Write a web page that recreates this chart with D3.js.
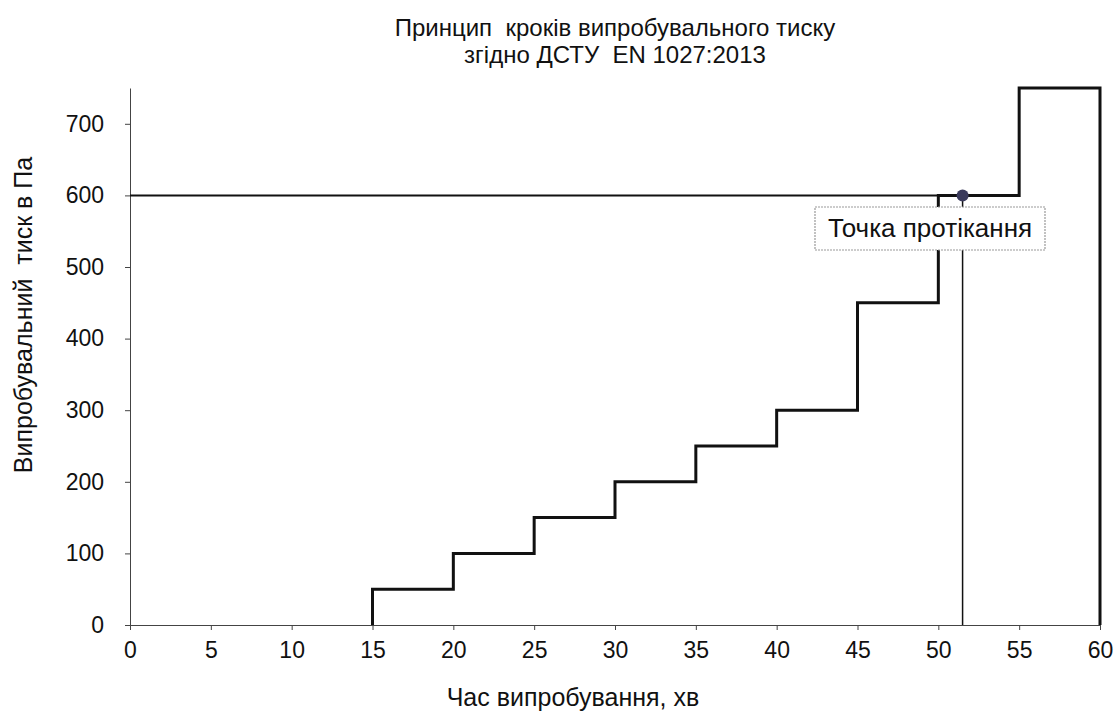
<!DOCTYPE html>
<html lang="uk">
<head>
  <meta charset="UTF-8">
  <title>Принцип кроків випробувального тиску</title>
  <script src="https://d3js.org/d3.v7.min.js"></script>
  <style>
    body { margin: 0; background: #fff; font-family: "Liberation Sans", Arial, sans-serif; }
    .axis path, .axis line { stroke: #444; stroke-width: 1; }
    .axis text { fill: #111; font-size: 23px; font-family: "Liberation Sans", Arial, sans-serif; }
  </style>
</head>
<body>
<svg id="chart" width="1115" height="715"></svg>
<script>
// Data
const stepTimes = [15, 20, 25, 30, 35, 40, 45, 50, 55];
const stepPressures = [50, 100, 150, 200, 250, 300, 450, 600, 750];
const testEnd = 60;
const leakTime = 51.5;
const leakPressure = 600;
const xTicks = [0, 5, 10, 15, 20, 25, 30, 35, 40, 45, 50, 55, 60];
const yTicks = [0, 100, 200, 300, 400, 500, 600, 700];
const titleLines = ['Принцип  кроків випробувального тиску', 'згідно ДСТУ  EN 1027:2013'];
const xLabel = 'Час випробування, хв';
const yLabel = 'Випробувальний  тиск в Па';
const leakLabel = 'Точка протікання';

const svg = d3.select('#chart');

// Scales
const x = d3.scaleLinear().domain([0, 60]).range([130, 1100]);
const y = d3.scaleLinear().domain([0, 750]).range([625, 88]);

// Axes
svg.append('g').attr('class', 'axis')
  .attr('transform', `translate(0,${y(0)})`)
  .call(d3.axisBottom(x).tickValues(xTicks).tickSize(5).tickSizeOuter(0).tickPadding(12));
svg.append('g').attr('class', 'axis')
  .attr('transform', `translate(${x(0)},0)`)
  .call(d3.axisLeft(y).tickValues(yTicks).tickSize(5).tickSizeOuter(0).tickPadding(21));

// Reference line at leak pressure and drop line
svg.append('line')
  .attr('x1', x(0)).attr('y1', y(leakPressure))
  .attr('x2', x(leakTime)).attr('y2', y(leakPressure))
  .attr('stroke', '#111').attr('stroke-width', 2);
svg.append('line')
  .attr('x1', x(leakTime)).attr('y1', y(leakPressure))
  .attr('x2', x(leakTime)).attr('y2', y(0))
  .attr('stroke', '#111').attr('stroke-width', 1.5);

// Step profile
const pts = [[stepTimes[0], 0]]
  .concat(stepTimes.map((t, i) => [t, stepPressures[i]]))
  .concat([[testEnd, stepPressures[stepPressures.length - 1]], [testEnd, 0]]);
const line = d3.line().x(d => x(d[0])).y(d => y(d[1])).curve(d3.curveStepAfter);
svg.append('path')
  .attr('d', line(pts))
  .attr('fill', 'none').attr('stroke', '#111').attr('stroke-width', 3)
  .attr('stroke-linejoin', 'miter');

// Leak label box
const bx = 815, by = 207;
svg.append('rect')
  .attr('x', bx).attr('y', by).attr('width', 230).attr('height', 43)
  .attr('fill', '#fff').attr('stroke', '#999').attr('stroke-width', 1.2)
  .attr('stroke-dasharray', '2,1');
svg.append('text')
  .attr('x', bx + 115).attr('y', by + 30)
  .attr('text-anchor', 'middle').attr('font-size', 26).attr('fill', '#111')
  .text(leakLabel);

// Leak point marker
svg.append('circle')
  .attr('cx', x(leakTime)).attr('cy', y(leakPressure)).attr('r', 6)
  .attr('fill', '#3b3b5c');

// Title, one text per line
svg.selectAll('.title').data(titleLines).join('text')
  .attr('class', 'title')
  .attr('x', 615).attr('y', (d, i) => 36 + i * 27)
  .attr('text-anchor', 'middle').attr('font-size', 24).attr('fill', '#111')
  .style('white-space', 'pre')
  .text(d => d);

// Axis labels
svg.append('text')
  .attr('x', 573).attr('y', 706)
  .attr('text-anchor', 'middle').attr('font-size', 25).attr('fill', '#111')
  .text(xLabel);
svg.append('text')
  .attr('transform', `translate(32,315) rotate(-90)`)
  .attr('text-anchor', 'middle').attr('font-size', 25).attr('fill', '#111')
  .style('white-space', 'pre')
  .text(yLabel);
</script>
</body>
</html>
